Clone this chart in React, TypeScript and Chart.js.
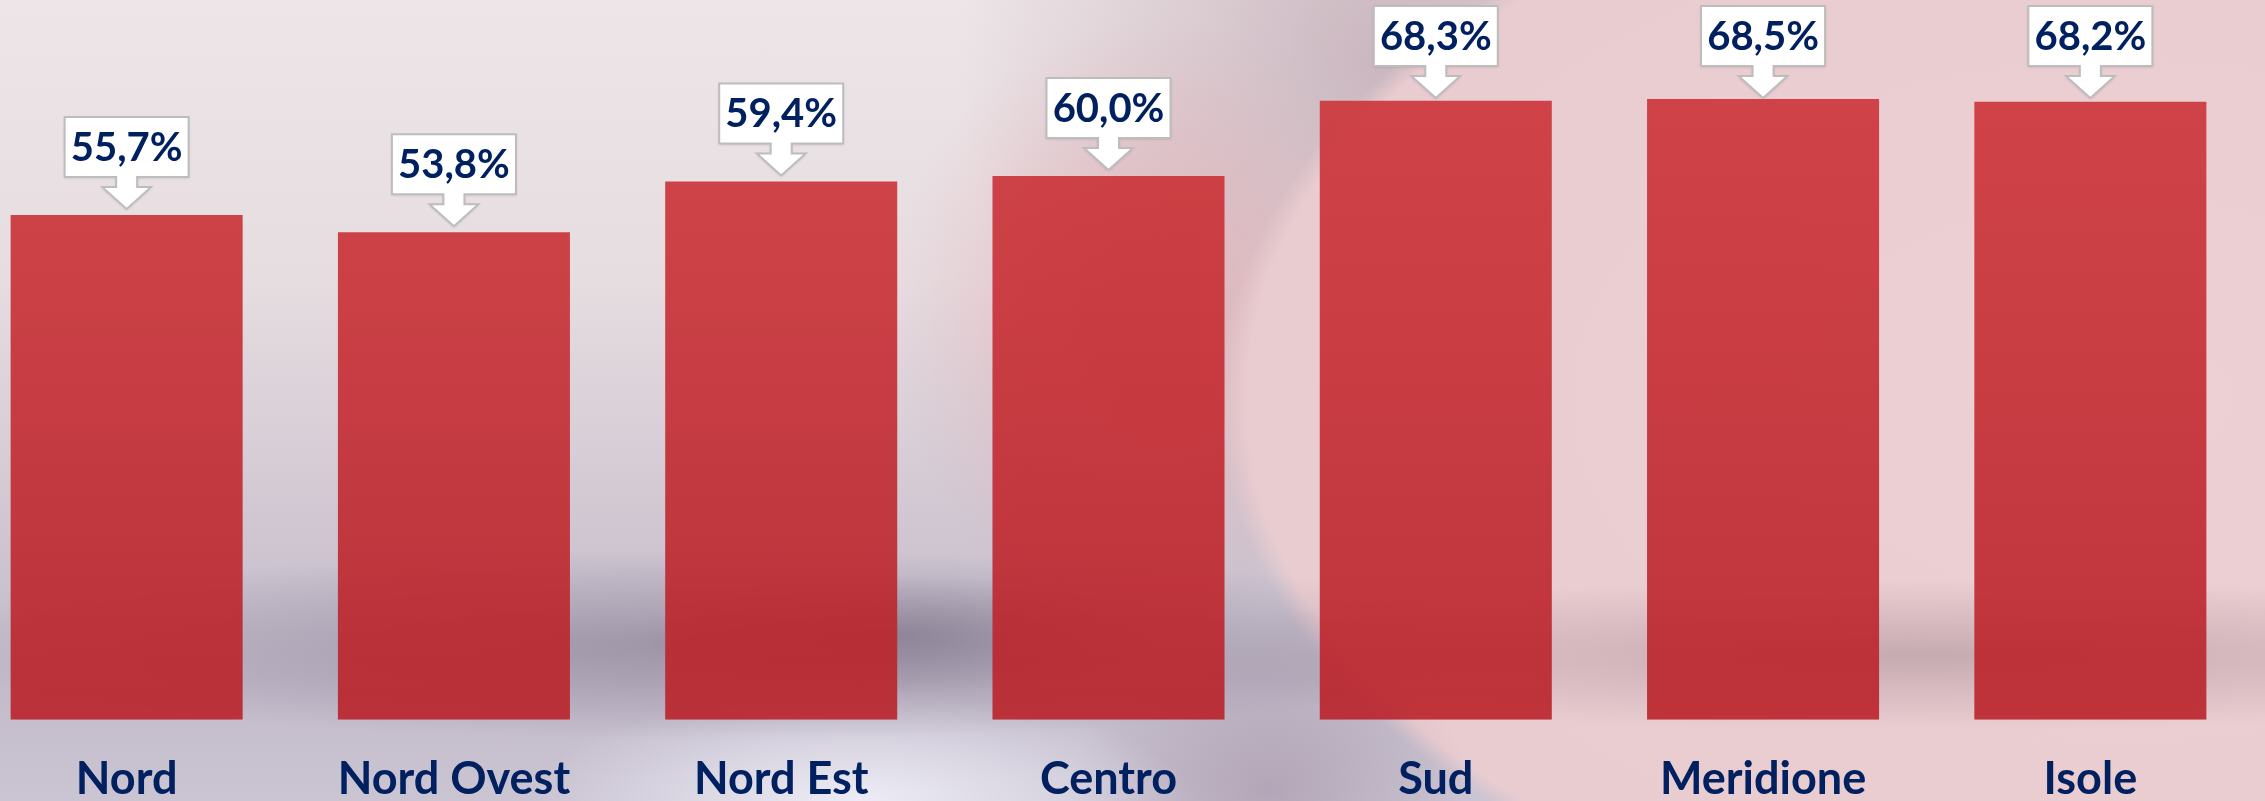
import React, { useEffect, useRef } from 'react';
import { Chart, registerables } from 'chart.js';

Chart.register(...registerables);

const categories = ['Nord', 'Nord Ovest', 'Nord Est', 'Centro', 'Sud', 'Meridione', 'Isole'];
const values = [55.7, 53.8, 59.4, 60.0, 68.3, 68.5, 68.2];
const yMax = 75;

const NAVY = '#002060';
const FONT = 'Lato, "Noto Sans", sans-serif';

const calloutPlugin = {
  id: 'callouts',
  afterDatasetsDraw(chart: any) {
    const ctx = chart.ctx;
    const meta = chart.getDatasetMeta(0);
    const data = chart.data.datasets[0].data as number[];
    meta.data.forEach((bar: any, i: number) => {
      const { x, y } = bar.getProps(['x', 'y'], true);
      const boxW = 124, boxH = 60, stemW = 21, stemH = 10, headW = 49, headH = 22;
      const total = boxH + stemH + headH;
      let top = y - 6 - total;
      if (top < 6) top = 6;
      const left = x - boxW / 2, right = x + boxW / 2, bottom = top + boxH;
      const tip = bottom + stemH + headH;
      ctx.save();
      ctx.beginPath();
      ctx.moveTo(left, top);
      ctx.lineTo(right, top);
      ctx.lineTo(right, bottom);
      ctx.lineTo(x + stemW / 2, bottom);
      ctx.lineTo(x + stemW / 2, bottom + stemH);
      ctx.lineTo(x + headW / 2, bottom + stemH);
      ctx.lineTo(x, tip);
      ctx.lineTo(x - headW / 2, bottom + stemH);
      ctx.lineTo(x - stemW / 2, bottom + stemH);
      ctx.lineTo(x - stemW / 2, bottom);
      ctx.lineTo(left, bottom);
      ctx.closePath();
      ctx.shadowColor = 'rgba(0,0,0,0.18)';
      ctx.shadowBlur = 3;
      ctx.shadowOffsetY = 1;
      ctx.fillStyle = '#ffffff';
      ctx.fill();
      ctx.shadowColor = 'transparent';
      ctx.lineWidth = 2;
      ctx.strokeStyle = '#bdbdbd';
      ctx.stroke();
      ctx.fillStyle = NAVY;
      ctx.font = `bold 40px ${FONT}`;
      ctx.textAlign = 'center';
      ctx.textBaseline = 'middle';
      const label = data[i].toFixed(1).replace('.', ',') + '%';
      ctx.fillText(label, x, top + boxH / 2 + 1);
      ctx.restore();
    });
  },
};

const background = [
  'radial-gradient(ellipse 260px 60px at 900px 635px, rgba(85,75,100,0.3), rgba(85,75,100,0))',
  'radial-gradient(ellipse 820px 95px at 720px 645px, rgba(100,90,115,0.42), rgba(100,90,115,0))',
  'radial-gradient(ellipse 820px 75px at 1920px 655px, rgba(120,95,108,0.32), rgba(120,95,108,0))',
  'radial-gradient(ellipse 330px 110px at 860px 801px, rgba(238,238,248,0.95), rgba(238,238,248,0))',
  'radial-gradient(ellipse 200px 150px at 1270px 790px, rgba(150,130,152,0.45), rgba(150,130,152,0))',
  'radial-gradient(ellipse 900px 565px at 2120px 400px, rgba(236,208,211,1) 0%, rgba(233,204,208,1) 97%, rgba(233,204,208,0) 100%)',
  'radial-gradient(ellipse 260px 300px at 1150px 320px, rgba(228,160,166,0.6), rgba(228,160,166,0))',
  'radial-gradient(ellipse 420px 480px at 1380px 60px, rgba(178,150,163,0.55), rgba(178,150,163,0))',
  'radial-gradient(ellipse 700px 300px at 1900px 0px, rgba(200,170,178,0.35), rgba(200,170,178,0))',
  'linear-gradient(to bottom, #ede5e7 0%, #e6dde1 35%, #d0c7d2 65%, #c3bbca 85%, #cbc4d2 100%)',
].join(', ');

export default function App() {
  const canvasRef = useRef<HTMLCanvasElement | null>(null);

  useEffect(() => {
    const canvas = canvasRef.current;
    if (!canvas) return;
    const chart = new Chart(canvas, {
      type: 'bar',
      data: {
        labels: categories,
        datasets: [
          {
            data: values,
            backgroundColor: (c: any) => {
              const area = c.chart.chartArea;
              if (!area) return 'rgba(200,45,50,0.9)';
              const g = c.chart.ctx.createLinearGradient(0, area.top, 0, area.bottom);
              g.addColorStop(0, 'rgba(206,54,58,0.9)');
              g.addColorStop(1, 'rgba(186,34,42,0.9)');
              return g;
            },
            borderWidth: 0,
            categoryPercentage: 1,
            barPercentage: 0.709,
          },
        ],
      },
      options: {
        animation: false,
        responsive: false,
        maintainAspectRatio: false,
        layout: { padding: { top: 40, left: 0, right: 0, bottom: 0 } },
        plugins: { legend: { display: false }, tooltip: { enabled: false } },
        scales: {
          x: {
            grid: { display: false, drawTicks: false },
            border: { display: false },
            ticks: {
              color: NAVY,
              font: { family: FONT, size: 45, weight: 'bold', lineHeight: 1.25 },
              padding: 32,
              maxRotation: 0,
              autoSkip: false,
            },
          },
          y: { display: false, min: 0, max: yMax },
        },
      },
      plugins: [calloutPlugin],
    });
    return () => chart.destroy();
  }, []);

  return (
    <div
      style={{
        position: 'fixed',
        left: 0,
        top: 0,
        width: 2265,
        height: 801,
        overflow: 'hidden',
        background,
      }}
    >
      <canvas
        ref={canvasRef}
        width={2291}
        height={840}
        style={{ position: 'absolute', left: -37, top: 0, width: 2291, height: 840 }}
      />
    </div>
  );
}
